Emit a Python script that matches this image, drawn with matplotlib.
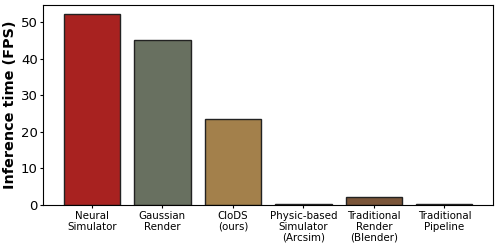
import matplotlib
matplotlib.use("Agg")
import matplotlib.pyplot as plt

# methods and their fps
methods = ["Neural\nSimulator", "Gaussian\nRender", "CloDS\n(ours)",
           "Physic-based\nSimulator\n(Arcsim)", "Traditional\nRender\n(Blender)",
           "Traditional\nPipeline"]
fps = [52.2, 45.1, 23.6, 0.3, 2.2, 0.2]
colors = ["#A82220", "#687060", "#A3804B", "#3A3028", "#7A5539", "#3A3028"]

fig, ax = plt.subplots(figsize=(5.03, 2.49), dpi=100)
ax.bar(range(len(methods)), fps, color=colors, edgecolor="#222222", linewidth=1)
ax.set_xticks(range(len(methods)))
ax.set_xticklabels(methods, fontsize=7.4, linespacing=1.1)
ax.tick_params(axis="y", labelsize=9.5, length=2, pad=2)
ax.tick_params(axis="x", length=2, pad=2.5)
ax.set_ylabel("Inference time (FPS)", fontsize=10.4, fontweight="bold", labelpad=3)
ax.set_ylim(0, 54.8)

plt.subplots_adjust(left=0.086, right=0.98, top=0.98, bottom=0.177)
plt.savefig("out.png")
